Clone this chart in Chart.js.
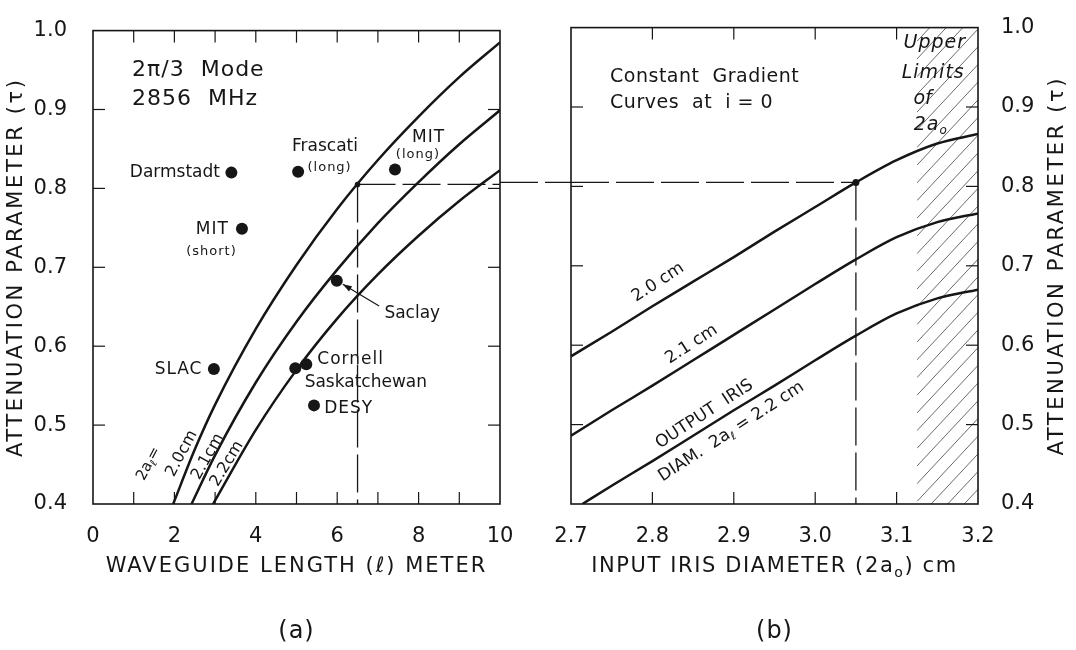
<!DOCTYPE html>
<html>
<head>
<meta charset="utf-8">
<script src="https://cdn.jsdelivr.net/npm/chart.js@4.4.0/dist/chart.umd.min.js"></script>
<style>
  body { margin: 0; background: #fff; width: 1076px; height: 650px; position: relative; overflow: hidden; }
  #chartA { position: absolute; left: 0; top: 0; }
  #chartB { position: absolute; left: 500px; top: 0; }
</style>
</head>
<body>
<canvas id="chartA" width="560" height="650"></canvas>
<canvas id="chartB" width="576" height="650"></canvas>
<script>
const INK = "#161616";
const FONT = '"DejaVu Sans", sans-serif';

/* ---------- (a) attenuation parameter vs waveguide length ---------- */
const lengthTicks = [0, 1, 2, 3, 4, 5, 6, 7, 8, 9, 10];
const tauTicks = [0.4, 0.5, 0.6, 0.7, 0.8, 0.9, 1.0];

// one curve per output iris diameter 2a_l
const len20 = [1.97, 2.5, 3, 4, 5, 6, 7, 8, 9, 10];
const tau20 = [0.400, 0.469, 0.526, 0.622, 0.703, 0.774, 0.836, 0.891, 0.941, 0.985];
const len21 = [2.42, 3, 4, 5, 6, 7, 8, 9, 10];
const tau21 = [0.400, 0.462, 0.554, 0.631, 0.697, 0.756, 0.808, 0.856, 0.899];
const len22 = [2.95, 4, 5, 6, 7, 8, 9, 10];
const tau22 = [0.400, 0.494, 0.570, 0.635, 0.691, 0.740, 0.784, 0.823];

// existing machines
const labNames = ["Darmstadt", "Frascati", "MIT (long)", "MIT (short)", "Saclay", "SLAC", "Cornell", "Saskatchewan", "DESY"];
const labLength = [3.40, 5.04, 7.42, 3.66, 5.99, 2.97, 4.97, 5.24, 5.43];
const labTau = [0.820, 0.821, 0.824, 0.749, 0.683, 0.571, 0.572, 0.577, 0.525];

// chosen design point, carried across both panels
const opLength = 6.5;
const opTau = 0.805;
const opIris = 3.05;

/* ---------- (b) attenuation parameter vs input iris diameter ---------- */
const irisTicks = [2.7, 2.8, 2.9, 3.0, 3.1, 3.2];
const iris = [2.70, 2.75, 2.80, 2.85, 2.90, 2.95, 3.00, 3.05, 3.10, 3.15, 3.20];
const tauB20 = [0.586, 0.617, 0.649, 0.680, 0.711, 0.743, 0.774, 0.805, 0.833, 0.854, 0.866];
const tauB21 = [0.486, 0.518, 0.549, 0.581, 0.613, 0.645, 0.677, 0.708, 0.736, 0.755, 0.766];
const iris22 = [2.714, 2.75, 2.80, 2.85, 2.90, 2.95, 3.00, 3.05, 3.10, 3.15, 3.20];
const tauB22 = [0.400, 0.423, 0.454, 0.486, 0.518, 0.549, 0.581, 0.612, 0.640, 0.659, 0.670];
const irisUpperLimit = 3.125;

const zip = (xs, ys) => xs.map((x, i) => ({x: x, y: ys[i]}));

function curve(xs, ys) {
    return {
        data: zip(xs, ys), showLine: true, borderColor: INK, borderWidth: 2.5,
        pointRadius: 0, cubicInterpolationMode: "monotone", fill: false
    };
}

function dashed(pts) {
    return {data: pts, showLine: true, borderColor: INK, borderWidth: 1.3, borderDash: [38, 7], pointRadius: 0};
}

function dots(pts, r) {
    return {data: pts, showLine: false, pointRadius: r, pointBackgroundColor: INK, pointBorderWidth: 0};
}

// text helper: "_x" puts the next character as a subscript
function drawText(ctx, str, x, y, o) {
    const size = o.size || 17;
    const style = o.italic ? "italic " : "";
    const parts = [];
    for (let i = 0; i < str.length; i++) {
        if (str[i] === "_") { parts.push({t: str[i + 1], sub: true}); i++; }
        else if (parts.length && !parts[parts.length - 1].sub) parts[parts.length - 1].t += str[i];
        else parts.push({t: str[i], sub: false});
    }
    ctx.save();
    ctx.translate(x, y);
    ctx.rotate((o.rot || 0) * Math.PI / 180);
    ctx.fillStyle = INK;
    ctx.textBaseline = "middle";
    ctx.textAlign = "left";
    ctx.letterSpacing = (o.sp || 0) + "px";
    const fontOf = p => style + (p.sub ? Math.round(size * 0.65) : size) + "px " + FONT;
    let w = 0;
    parts.forEach(p => { ctx.font = fontOf(p); p.w = ctx.measureText(p.t).width; w += p.w; });
    let cx = o.align === "left" ? 0 : o.align === "right" ? -w : -w / 2;
    parts.forEach(p => {
        ctx.font = fontOf(p);
        ctx.fillText(p.t, cx, p.sub ? size * 0.3 : 0);
        cx += p.w;
    });
    ctx.restore();
}

function line(ctx, x1, y1, x2, y2) {
    ctx.beginPath(); ctx.moveTo(x1, y1); ctx.lineTo(x2, y2); ctx.stroke();
}

// box round the plot with the ticks pointing inwards on all four sides
const frame = {
    id: "frame",
    afterDatasetsDraw(chart) {
        const {ctx, chartArea: a, scales: {x, y}} = chart;
        const L = 12;
        ctx.save();
        ctx.strokeStyle = INK;
        ctx.lineWidth = 1.2;
        x.ticks.forEach(t => {
            const px = x.getPixelForValue(t.value);
            if (px < a.left + 2 || px > a.right - 2) return;
            line(ctx, px, a.bottom, px, a.bottom - L);
            line(ctx, px, a.top, px, a.top + L);
        });
        y.ticks.forEach(t => {
            const py = y.getPixelForValue(t.value);
            if (py < a.top + 2 || py > a.bottom - 2) return;
            line(ctx, a.left, py, a.left + L, py);
            line(ctx, a.right, py, a.right - L, py);
        });
        ctx.lineWidth = 1.6;
        ctx.strokeRect(a.left, a.top, a.right - a.left, a.bottom - a.top);
        ctx.restore();
    }
};

function notes(items, extra) {
    return {
        id: "notes",
        afterDraw(chart) {
            const {ctx, scales: {x, y}} = chart;
            items.forEach(n => drawText(ctx, n.t, x.getPixelForValue(n.x), y.getPixelForValue(n.y), n));
            if (extra) extra(chart);
        }
    };
}

function axes(xmin, xmax, xTicks, xLabel, yPos, yWidth, yPad) {
    return {
        x: {
            type: "linear", min: xmin, max: xmax,
            afterBuildTicks: s => { s.ticks = xTicks.map(v => ({value: v})); },
            afterFit: s => { s.height = 146; },
            grid: {display: false}, border: {display: false},
            ticks: {
                autoSkip: false, maxRotation: 0, padding: 12, color: INK,
                font: {family: FONT, size: 21}, callback: xLabel
            }
        },
        y: {
            type: "linear", position: yPos, min: 0.4, max: 1.0,
            afterBuildTicks: s => { s.ticks = tauTicks.map(v => ({value: v})); },
            afterFit: s => { s.width = yWidth; },
            grid: {display: false}, border: {display: false},
            ticks: {
                autoSkip: false, padding: yPad, color: INK,
                font: {family: FONT, size: 21}, callback: v => v.toFixed(1)
            }
        }
    };
}

const baseOptions = {
    responsive: false, animation: false, events: [],
    plugins: {legend: {display: false}, tooltip: {enabled: false}}
};

/* ---------------- PANEL (a) ---------------- */
const notesA = [
    {t: "2π/3  Mode", x: 0.96, y: 0.950, size: 22, align: "left", sp: 1},
    {t: "2856  MHz", x: 0.96, y: 0.913, size: 22, align: "left", sp: 1},
    {t: "Darmstadt", x: 3.12, y: 0.820, align: "right"},
    {t: "Frascati", x: 4.89, y: 0.853, align: "left"},
    {t: "(long)", x: 5.27, y: 0.826, size: 13, align: "left", sp: 1},
    {t: "MIT", x: 7.84, y: 0.865, align: "left", sp: 1},
    {t: "(long)", x: 7.44, y: 0.843, size: 13, align: "left", sp: 1},
    {t: "MIT", x: 3.34, y: 0.748, align: "right", sp: 1},
    {t: "(short)", x: 2.91, y: 0.720, size: 13, sp: 1},
    {t: "Saclay", x: 7.16, y: 0.641, align: "left"},
    {t: "SLAC", x: 2.69, y: 0.570, align: "right", sp: 1},
    {t: "Cornell", x: 5.51, y: 0.583, align: "left", sp: 1},
    {t: "Saskatchewan", x: 5.20, y: 0.554, align: "left"},
    {t: "DESY", x: 5.68, y: 0.521, align: "left", sp: 1},
    {t: "2a_ℓ=", x: 1.37, y: 0.451, size: 15, rot: -62},
    {t: "2.0cm", x: 2.18, y: 0.464, size: 16, rot: -62},
    {t: "2.1cm", x: 2.82, y: 0.460, size: 16, rot: -61},
    {t: "2.2cm", x: 3.29, y: 0.451, size: 16, rot: -59}
];

const chartA = new Chart(document.getElementById("chartA"), {
    type: "scatter",
    data: {
        datasets: [
            curve(len20, tau20),
            curve(len21, tau21),
            curve(len22, tau22),
            dots(zip(labLength, labTau), 6),
            dashed([{x: opLength, y: opTau}, {x: opLength, y: 0.4}]),
            dashed([{x: opLength, y: opTau}, {x: 10, y: opTau}]),
            dots([{x: opLength, y: opTau}], 2.8)
        ]
    },
    options: Object.assign({}, baseOptions, {
        layout: {padding: {top: 20, right: 60, bottom: 0, left: 0}},
        scales: axes(0, 10, lengthTicks, v => (v % 2 === 0 ? String(v) : ""), "left", 93, 18)
    }),
    plugins: [frame, notes(notesA, chart => {
        const {ctx, chartArea: a, scales: {x, y}} = chart;
        drawText(ctx, "ATTENUATION PARAMETER (τ)", 17, (a.top + a.bottom) / 2, {size: 21, rot: -90, sp: 2.6});
        drawText(ctx, "WAVEGUIDE LENGTH (ℓ) METER", (a.left + a.right) / 2, 567, {size: 21, sp: 2});
        drawText(ctx, "(a)", (a.left + a.right) / 2, 632, {size: 24, sp: 1});
        // leader from Saclay label to its point
        const i = labNames.indexOf("Saclay");
        const px = x.getPixelForValue(labLength[i]), py = y.getPixelForValue(labTau[i]);
        const qx = x.getPixelForValue(7.03), qy = y.getPixelForValue(0.651);
        const d = Math.hypot(qx - px, qy - py), ux = (qx - px) / d, uy = (qy - py) / d;
        const sx = px + ux * 7, sy = py + uy * 7;
        ctx.save();
        ctx.strokeStyle = INK; ctx.fillStyle = INK; ctx.lineWidth = 1.2;
        line(ctx, sx, sy, qx, qy);
        ctx.beginPath();
        ctx.moveTo(sx, sy);
        ctx.lineTo(sx + ux * 9 - uy * 3, sy + uy * 9 + ux * 3);
        ctx.lineTo(sx + ux * 9 + uy * 3, sy + uy * 9 - ux * 3);
        ctx.closePath(); ctx.fill();
        ctx.restore();
    })]
});

/* ---------------- PANEL (b) ---------------- */
const notesB = [
    {t: "Constant  Gradient", x: 2.748, y: 0.938, size: 19, align: "left", sp: 0.5},
    {t: "Curves  at  i = 0", x: 2.748, y: 0.905, size: 19, align: "left", sp: 0.5},
    {t: "Upper", x: 3.147, y: 0.980, size: 19, italic: true, sp: 1},
    {t: "Limits", x: 3.145, y: 0.943, size: 19, italic: true, sp: 1},
    {t: "of", x: 3.132, y: 0.910, size: 19, italic: true},
    {t: "2a_o", x: 3.142, y: 0.877, size: 19, italic: true, sp: 1},
    {t: "2.0 cm", x: 2.807, y: 0.679, size: 17, rot: -33},
    {t: "2.1 cm", x: 2.848, y: 0.601, size: 17, rot: -33},
    {t: "OUTPUT  IRIS", x: 2.864, y: 0.513, size: 17, rot: -33},
    {t: "DIAM.  2a_ℓ = 2.2 cm", x: 2.897, y: 0.491, size: 17, rot: -33}
];

// hatched band beyond the upper limit of the input iris
const hatch = {
    id: "hatch",
    beforeDatasetsDraw(chart) {
        const {ctx, chartArea: a, scales: {x}} = chart;
        const x0 = x.getPixelForValue(irisUpperLimit);
        const rise = (a.right - x0) * 1.07;
        ctx.save();
        ctx.beginPath();
        ctx.rect(x0, a.top, a.right - x0, a.bottom - a.top);
        ctx.clip();
        ctx.strokeStyle = "#6a6a6a";
        ctx.lineWidth = 1;
        for (let yy = a.top - 4; yy < a.bottom + rise; yy += 17.7) {
            line(ctx, x0, yy, a.right, yy - rise);
        }
        ctx.restore();
    }
};

// dashed link from panel (a) into panel (b)
const bridge = {
    id: "bridge",
    afterDatasetsDraw(chart) {
        const {ctx, chartArea: a, scales: {y}} = chart;
        const py = y.getPixelForValue(opTau);
        ctx.save();
        ctx.strokeStyle = INK; ctx.lineWidth = 1.3; ctx.setLineDash([38, 7]);
        line(ctx, 0, py, a.left, py);
        ctx.restore();
    }
};

const chartB = new Chart(document.getElementById("chartB"), {
    type: "scatter",
    data: {
        datasets: [
            curve(iris, tauB20),
            curve(iris, tauB21),
            curve(iris22, tauB22),
            dashed([{x: 2.7, y: opTau}, {x: opIris, y: opTau}]),
            dashed([{x: opIris, y: opTau}, {x: opIris, y: 0.4}]),
            dots([{x: opIris, y: opTau}], 3.5)
        ]
    },
    options: Object.assign({}, baseOptions, {
        layout: {padding: {top: 20, right: 0, bottom: 0, left: 71}},
        scales: axes(2.7, 3.2, irisTicks, v => v.toFixed(1), "right", 98, 15)
    }),
    plugins: [hatch, frame, bridge, notes(notesB, chart => {
        const {ctx, chartArea: a} = chart;
        drawText(ctx, "ATTENUATION PARAMETER (τ)", 558, (a.top + a.bottom) / 2, {size: 21, rot: -90, sp: 2.6});
        drawText(ctx, "INPUT IRIS DIAMETER (2a_o) cm", (a.left + a.right) / 2, 567, {size: 21, sp: 1.6});
        drawText(ctx, "(b)", (a.left + a.right) / 2, 632, {size: 24, sp: 1});
    })]
});
</script>
</body>
</html>
